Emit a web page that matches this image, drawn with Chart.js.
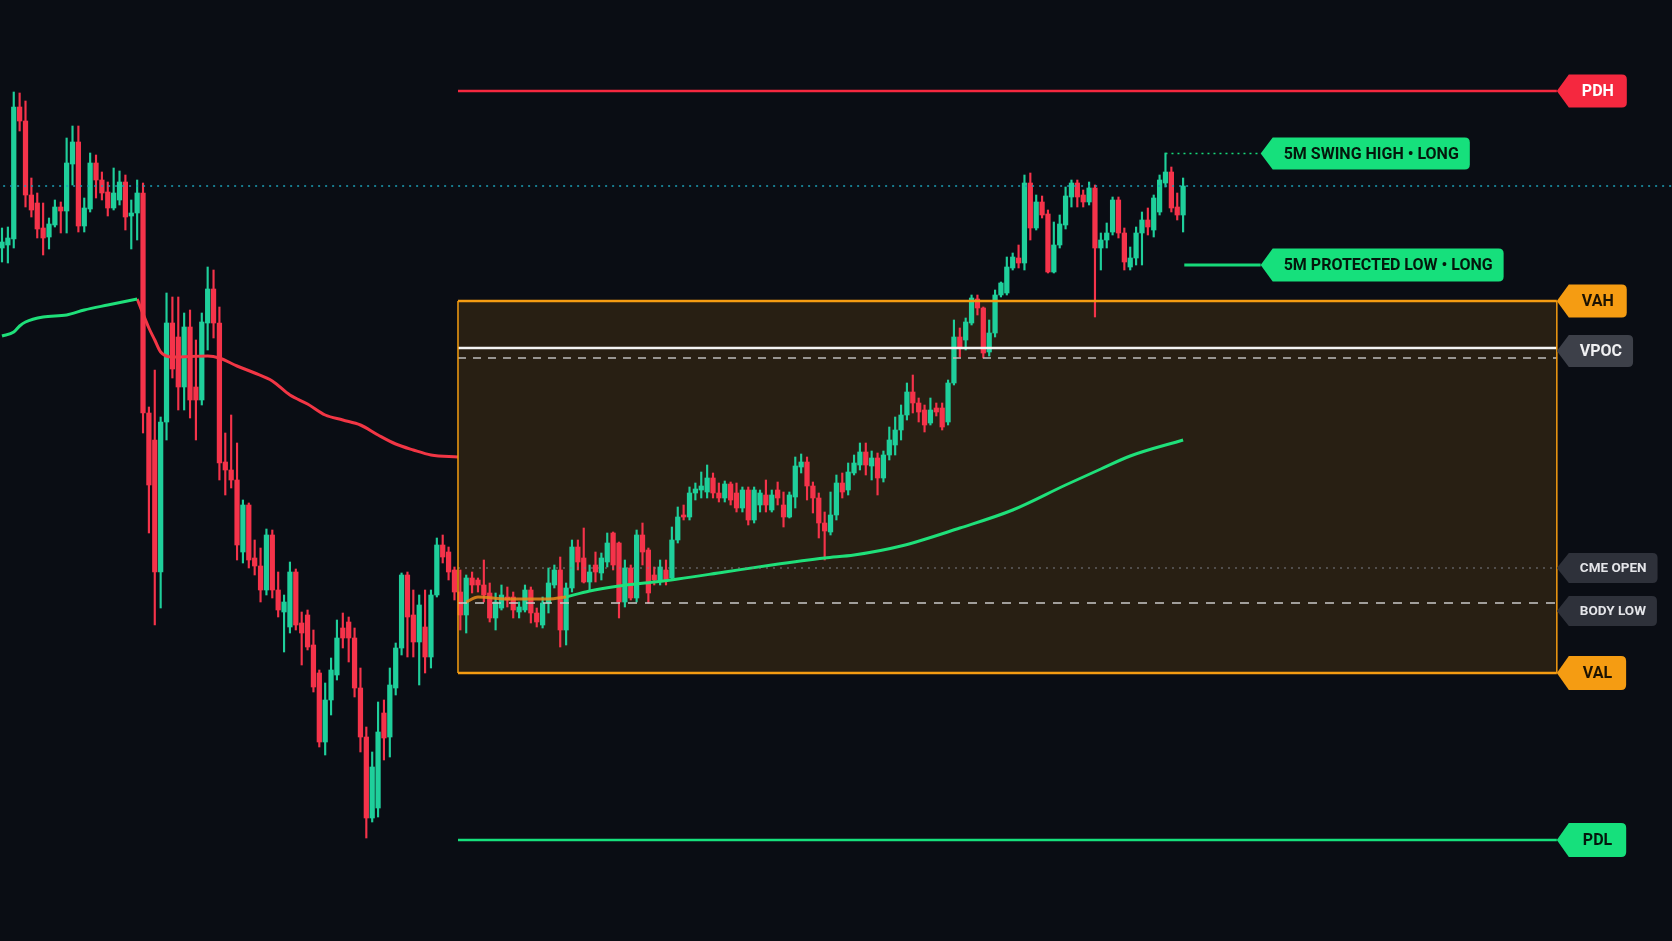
<!DOCTYPE html>
<html>
<head>
<meta charset="utf-8">
<title>5m session levels</title>
<script src="https://cdn.jsdelivr.net/npm/chart.js@4.4.1/dist/chart.umd.min.js"></script>
<style>
  html, body { margin: 0; padding: 0; background: #0a0d14; overflow: hidden; }
  #wrap { width: 1672px; height: 941px; }
</style>
</head>
<body>
<div id="wrap"><canvas id="chart" width="1672" height="941"></canvas></div>
<script>
// 5m candles, [open, high, low, close]
const candles = [
  [752,772,738,758],[755,773,737,762],[761,908,752,893],[893,907,869,879],[879,899,793,805],
  [805,822,783,790],[797,807,762,771],[772,797,745,762],[763,782,751,776],[775,800,773,793],
  [793,798,767,789],[789,862,767,837],[836,874,815,858],[858,874,768,774],[774,802,768,792],
  [791,847,788,837],[837,845,802,820],[820,828,800,807],[808,818,784,792],[792,832,790,807],
  [800,829,795,818],[818,825,770,783],[784,800,751,787],[787,820,760,807],[807,817,567,587],
  // 25
  [587,593,467,515],[560,630,375,428],[428,583,392,578],[578,707,560,677],[677,703,622,631],
  [663,703,590,613],[613,687,590,673],[673,690,582,600],[613,660,560,600],[600,687,595,678],
  [677,733,650,711],[711,730,662,677],[677,693,520,537],[538,567,505,530],[530,585,512,520],
  [520,557,440,455],[448,500,437,495],[495,497,432,440],[442,460,425,434],[434,452,398,410],
  [410,471,405,465],[465,470,402,410],[410,428,383,390],
  // 48
  [388,405,348,398],[373,438,367,428],[428,431,370,375],[377,388,335,367],[385,390,350,353],
  [355,370,308,313],[327,330,253,258],[258,317,245,300],[300,342,285,330],[325,380,320,362],
  [372,387,352,362],[378,383,338,362],[362,372,303,312],[312,332,248,263],[263,273,162,182],
  [182,248,178,233],[192,298,183,268],[287,300,240,262],[263,332,243,315],[312,357,305,352],
  [352,427,345,425],[425,428,343,383],[385,410,343,358],[358,405,315,395],[373,410,327,343],
  [343,410,332,405],[405,462,403,455],[455,465,437,443],[448,453,420,428],[430,433,400,408],
  [408,430,370,385],
  // 79
  [385,425,367,422],[422,428,407,415],[420,422,408,415],[415,440,398,405],[407,417,378,382],
  [382,407,370,398],[392,415,390,405],[403,413,393,400],[403,408,382,390],[388,398,382,393],
  [390,415,388,410],[410,413,377,387],[387,392,373,378],[375,403,372,397],[397,432,387,417],
  [415,435,412,430],[430,443,353,370],[370,417,355,412],[412,460,408,453],[453,460,430,438],
  [442,472,417,418],[418,435,410,428],[435,448,418,428],[427,447,420,442],[438,467,433,457],
  [467,468,430,435],[457,458,382,398],[398,440,393,432],[432,435,400,402],[402,470,398,465],
  [465,477,435,448],[450,452,397,407],[425,433,415,420],[420,440,415,433],[430,440,415,420],
  [422,473,420,460],
  // 115
  [460,493,457,483],[485,495,480,483],[483,513,480,507],[507,517,500,511],[510,528,502,514],
  [508,535,502,522],[522,527,502,507],[507,517,498,502],[502,519,498,516],[516,518,495,500],
  [507,517,488,492],[492,513,488,510],[510,513,475,480],[480,513,477,510],[495,510,488,507],
  [505,520,488,495],[490,510,488,505],[510,518,495,502],[495,508,473,483],[483,508,482,505],
  [503,543,492,534],[533,546,527,538],[538,543,500,514],[514,518,487,502],[502,507,462,477],
  [477,488,440,469],[468,508,465,485],[485,525,480,517],[517,527,502,508],[510,537,505,528],
  [527,545,525,537],[535,557,530,548],[548,557,525,535],[534,549,520,542],[542,547,505,522],
  [522,549,518,545],[545,573,540,560],[555,583,545,570],
  // 153
  [570,595,560,585],[585,617,580,608],[608,625,587,597],[597,602,578,588],[590,595,568,575],
  [577,602,575,590],[592,597,584,588],[592,597,570,573],[578,620,575,617],[617,680,615,663],
  [663,672,643,652],[660,682,650,678],[677,705,675,702],[701,705,685,692],[692,693,642,647],
  [648,680,644,667],[667,710,663,705],[705,718,703,717],[707,743,705,733],[732,747,730,743],
  [742,755,732,737],[737,825,730,817],[817,827,760,772],[772,805,770,798],[798,804,782,785],
  [786,790,727,728],[728,778,727,755],[755,785,752,776],[775,813,771,804],[803,820,793,817],
  [817,820,793,803],[805,810,793,798],[798,818,795,812],[812,815,683,752],[752,767,730,760],
  [760,777,752,767],[768,803,765,800],[800,803,762,767],[767,772,730,738],[733,753,730,742],
  [742,773,735,767],[767,788,735,780],[780,792,765,773],[770,805,763,802],[788,825,785,820],
  [817,847,813,828],[828,833,788,792],[793,807,780,785],[785,822,768,814]
];

// moving averages, [bar, value]
const maRising = [[0,664],[2,668],[3,674],[4,678],[7,683],[11,685],[14,690],[18,695],[23,701]];
const maFalling = [[23,701],[25,672],[26,660],[27,648],[29,643],[35,644],[37,642],[40,634],[43,627],
  [46,619],[49,605],[52,596],[55,585],[58,580],[61,575],[64,565],[67,556],[70,550],[73,545],[77.6,543]];
const vwapFlat = [[79,398],[81,403],[86,401],[93,401],[96,403]];
const vwapUp = [[96,403],[100,409],[105,414],[111,418],[115,421],[123,428],[131,435],[140,442],
  [145,445],[153,454],[163,472],[172,490],[181,515],[187,531],[192,544],[201,560]];

// price levels
const PDH = 909, SWING_HIGH = 846.5, ALERT = 814, PROTECTED_LOW = 735;
const VAH = 699, VPOC = 652, VPOC_PREV = 642, CME_OPEN = 432, BODY_LOW = 397, VAL = 327, PDL = 160;
// bar positions of the session and the notes
const SESSION_START = 77.6, SESSION_END = 264.6;
const SWING_BAR = 198, PROTECTED_FROM = 201.2, NOTE_AT = 214.2;

const UP = '#1fcf9b', DOWN = '#f5334a';
const GREEN = '#16e07c', ORANGE = '#f59c12';
const TAG_FONT = 'Roboto, "DejaVu Sans Condensed", sans-serif';

const tags = [
  {text: 'PDH', level: PDH, at: SESSION_END, fill: '#f5283f', color: '#ffffff', size: 16, h: 33, pad: 13},
  {text: '5M SWING HIGH • LONG', level: SWING_HIGH, at: NOTE_AT, fill: GREEN, color: '#04170c', size: 16, h: 32, pad: 11},
  {text: '5M PROTECTED LOW • LONG', level: PROTECTED_LOW, at: NOTE_AT, fill: GREEN, color: '#04170c', size: 16, h: 33, pad: 11},
  {text: 'VAH', level: VAH, at: SESSION_END, fill: ORANGE, color: '#1c1303', size: 16, h: 33, pad: 13},
  {text: 'VPOC', level: VPOC, dy: 3, at: SESSION_END, fill: '#3d4049', color: '#f0f0f2', size: 16, h: 32, pad: 11},
  {text: 'CME OPEN', level: CME_OPEN, at: SESSION_END, fill: '#2e313a', color: '#e4e5e9', size: 13.5, h: 30, pad: 11},
  {text: 'BODY LOW', level: BODY_LOW, dy: 8, at: SESSION_END, fill: '#2e313a', color: '#e4e5e9', size: 13.5, h: 30, pad: 11},
  {text: 'VAL', level: VAL, at: SESSION_END, fill: ORANGE, color: '#1c1303', size: 16, h: 34, pad: 14},
  {text: 'PDL', level: PDL, at: SESSION_END, fill: GREEN, color: '#04170c', size: 16, h: 34, pad: 14}
];

function hline(y, from, to, color, width, dash, extra) {
  return Object.assign({
    type: 'line',
    data: [{x: from, y: y}, {x: to, y: y}],
    borderColor: color,
    borderWidth: width,
    borderDash: dash || [],
    pointRadius: 0,
    fill: false,
    order: 1
  }, extra || {});
}

function maLine(points, color) {
  return {
    type: 'line',
    data: points.map(p => ({x: p[0], y: p[1]})),
    borderColor: color,
    borderWidth: 3,
    pointRadius: 0,
    fill: false,
    tension: 0.4,
    cubicInterpolationMode: 'monotone',
    order: 2
  };
}

const colors = candles.map(c => c[3] >= c[0] ? UP : DOWN);

const tagPlugin = {
  id: 'tags',
  afterDraw(chart) {
    const ctx = chart.ctx, xs = chart.scales.x, ys = chart.scales.y;
    tags.forEach(t => {
      const tip = xs.getPixelForValue(t.at);
      const cy = ys.getPixelForValue(t.level) + (t.dy || 0);
      ctx.save();
      ctx.font = `bold ${t.size}px ${TAG_FONT}`;
      const w = ctx.measureText(t.text).width + 2 * t.pad;
      const left = tip + 12, right = left + w, top = cy - t.h / 2, bot = cy + t.h / 2, r = 5;
      ctx.beginPath();
      ctx.moveTo(tip, cy);
      ctx.lineTo(left, top);
      ctx.lineTo(right - r, top);
      ctx.quadraticCurveTo(right, top, right, top + r);
      ctx.lineTo(right, bot - r);
      ctx.quadraticCurveTo(right, bot, right - r, bot);
      ctx.lineTo(left, bot);
      ctx.closePath();
      ctx.fillStyle = t.fill;
      ctx.fill();
      ctx.fillStyle = t.color;
      ctx.textBaseline = 'middle';
      ctx.textAlign = 'left';
      ctx.fillText(t.text, left + t.pad, cy + 1);
      ctx.restore();
    });
  }
};

const datasets = [
  // value area box: top edge filled down to the bottom edge
  hline(VAH, SESSION_START, SESSION_END, ORANGE, 2.5, null, {fill: '+1', backgroundColor: 'rgba(245,156,18,0.13)'}),
  hline(VAL, SESSION_START, SESSION_END, ORANGE, 2.5),
  {type: 'line', data: [{x: SESSION_START, y: VAH}, {x: SESSION_START, y: VAL}], borderColor: ORANGE, borderWidth: 1.5, pointRadius: 0, order: 1},
  {type: 'line', data: [{x: SESSION_END, y: VAH}, {x: SESSION_END, y: VAL}], borderColor: ORANGE, borderWidth: 1.5, pointRadius: 0, order: 1},
  hline(PDH, SESSION_START, SESSION_END, '#f5283f', 2.5),
  hline(PDL, SESSION_START, SESSION_END, GREEN, 2.5),
  hline(VPOC, SESSION_START, SESSION_END, '#f4f4f4', 2.5),
  hline(VPOC_PREV, SESSION_START, SESSION_END, '#bdbdbd', 1.5, [8, 7]),
  hline(CME_OPEN, SESSION_START, SESSION_END, '#7c7f88', 1.2, [2, 5]),
  hline(BODY_LOW, SESSION_START, SESSION_END, '#c9c9c9', 1.5, [9, 8]),
  hline(ALERT, -1, 290, '#1c9fb5', 1.5, [2, 5]),
  hline(SWING_HIGH, SWING_BAR, NOTE_AT, '#17d97a', 1.5, [2, 4]),
  hline(PROTECTED_LOW, PROTECTED_FROM, NOTE_AT, '#17d97a', 3),
  maLine(maRising, '#1fe07a'),
  maLine(maFalling, '#f23645'),
  maLine(vwapFlat, 'rgba(232,138,28,0.85)'),
  maLine(vwapUp, '#1fe07a'),
  {
    type: 'bar',
    data: candles.map((c, i) => ({x: i, y: [c[0], c[3]]})),
    backgroundColor: colors,
    barThickness: 4.6,
    minBarLength: 1,
    grouped: false,
    order: 5
  },
  {
    type: 'bar',
    data: candles.map((c, i) => ({x: i, y: [c[2], c[1]]})),
    backgroundColor: colors,
    barThickness: 1.5,
    grouped: false,
    order: 6
  }
];

new Chart(document.getElementById('chart'), {
  type: 'bar',
  data: {datasets: datasets},
  options: {
    responsive: false,
    animation: false,
    events: [],
    layout: {padding: 0},
    plugins: {
      legend: {display: false},
      tooltip: {enabled: false},
      filler: {drawTime: 'beforeDatasetsDraw'}
    },
    scales: {
      x: {type: 'linear', min: -0.34, max: 284.2, offset: false, display: false},
      y: {type: 'linear', min: 59, max: 1000, display: false}
    }
  },
  plugins: [tagPlugin]
});
</script>
</body>
</html>
